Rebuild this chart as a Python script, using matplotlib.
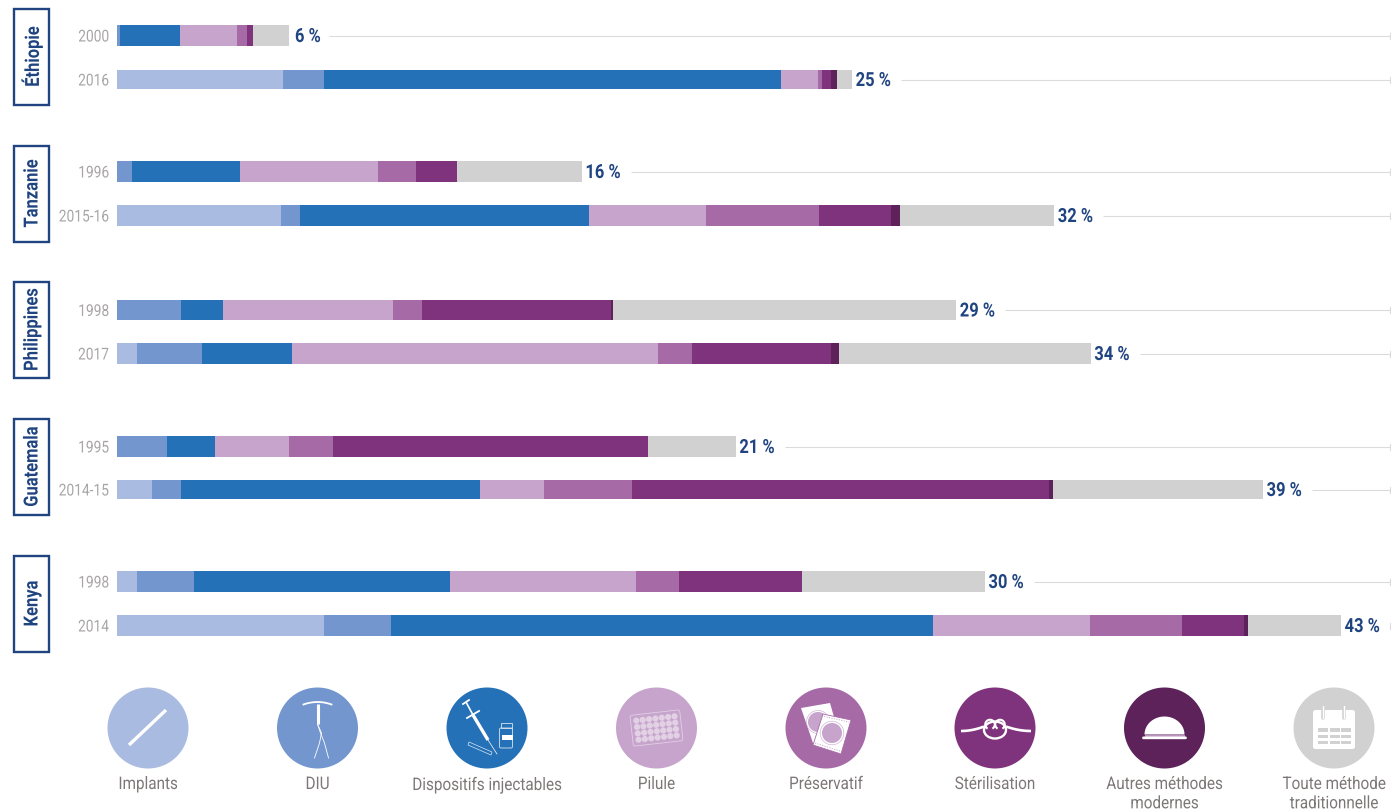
import matplotlib
matplotlib.use("Agg")
from matplotlib import pyplot as plt
from matplotlib.patches import Circle, Rectangle, FancyBboxPatch, Polygon, Ellipse, Arc
from matplotlib.patheffects import AbstractPathEffect
from matplotlib import transforms
import numpy as np

plt.rcParams['font.family'] = ['Roboto', 'DejaVu Sans']

# Data: share of women per method, percentage points
countries = ["Éthiopie", "Tanzanie", "Philippines", "Guatemala", "Kenya"]
years = ["2000", "2016", "1996", "2015-16", "1998", "2017", "1995", "2014-15", "1998", "2014"]
totals = [6, 25, 16, 32, 29, 34, 21, 39, 30, 43]
methods = ["Implants", "DIU", "Dispositifs injectables", "Pilule", "Préservatif",
           "Stérilisation", "Autres méthodes\nmodernes", "Toute méthode\ntraditionnelle"]

implants = [0, 5.72, 0, 5.66, 0, 0.69, 0, 1.21, 0.69, 7.14]
diu = [0.10, 1.41, 0.52, 0.66, 2.21, 2.24, 1.72, 1.00, 1.97, 2.31]
injectables = [2.07, 15.76, 3.72, 9.97, 1.45, 3.10, 1.66, 10.31, 8.83, 18.69]
pilule = [1.97, 1.28, 4.76, 4.03, 5.86, 12.62, 2.55, 2.21, 6.41, 5.41]
preservatif = [0.34, 0.14, 1.31, 3.90, 1.00, 1.17, 1.52, 3.03, 1.48, 3.17]
sterilisation = [0.21, 0.31, 1.41, 2.48, 6.52, 4.79, 10.86, 14.38, 4.24, 2.14]
autres = [0, 0.21, 0, 0.31, 0.07, 0.28, 0, 0.14, 0, 0.14]
traditionnelle = [1.24, 0.52, 4.31, 5.31, 11.83, 8.69, 3.03, 7.24, 6.31, 3.21]
series = [implants, diu, injectables, pilule, preservatif, sterilisation, autres, traditionnelle]

colors = ["#a9bbe0", "#7496cf", "#2471b7", "#c6a4cc", "#a66ba6", "#7f337c", "#5c2259", "#d2d1d2"]
NAVY = "#1f4480"
GREY = "#a8a5a5"
LEGEND_GREY = "#7d7877"
LINE = "#dcdbdb"
PILL_LIGHT = "#e2d0e5"

# Layout, in pixels
W, H = 1391, 811
X0 = 117
PX_PER_PCT = 29.0
row_y = [35.5, 79.5, 171.5, 215.5, 310, 353.5, 446.5, 489.5, 581.5, 625.5]
bar_h = [20.5, 19.5, 20.5, 20.5, 20.5, 20.5, 20.5, 19.5, 20.5, 20.5]
box_top = [9, 146, 282, 419, 556]
legend_x = [148, 317.5, 487, 656.5, 826, 995, 1164.5, 1334]
legend_y = 728
R = 40.5


class Squeeze(AbstractPathEffect):
    """Roboto Condensed is not installed, so squeeze Roboto around the text anchor."""

    def __init__(self, x, y, sx=1.0, sy=1.0):
        super().__init__()
        self.squeeze = transforms.Affine2D().translate(-x, -y).scale(sx, sy).translate(x, y)

    def draw_path(self, renderer, gc, tpath, affine, rgbFace=None):
        renderer.draw_path(gc, tpath, affine + self.squeeze, rgbFace)


def narrow(txt, sx=1.0, sy=1.0):
    x, y = txt.get_transform().transform(txt.get_position())
    txt.set_path_effects([Squeeze(x, y, sx, sy)])


fig = plt.figure(figsize=(W / 100, H / 100), dpi=100)

# bars live in a percent scale, everything else in pixels
ax = fig.add_axes([0, 0, 1, 1])
ax.set_xlim(-X0 / PX_PER_PCT, (W - X0) / PX_PER_PCT)
ax.set_ylim(H, 0)
ax.axis("off")

px = fig.add_axes([0, 0, 1, 1], zorder=3)
px.set_xlim(0, W)
px.set_ylim(H, 0)
px.axis("off")
px.patch.set_alpha(0)

left = np.zeros(len(years))
for values, color in zip(series, colors):
    ax.barh(row_y, values, left=left, height=bar_h, color=color, linewidth=0)
    left += np.array(values)

right_end = (W - X0) / PX_PER_PCT
for y, year, total, end in zip(row_y, years, totals, left):
    t = ax.text(-8 / PX_PER_PCT, y + 1.5, year, ha="right", va="center", fontsize=11.8, color=GREY)
    narrow(t, sx=0.84)
    t = ax.text(end + (6 if total < 10 else 3.5) / PX_PER_PCT, y + 1.5, f"{total} %", ha="left", va="center",
                fontsize=14, fontweight="bold", color=NAVY)
    narrow(t, sx=0.85)
    gap = 40 if total < 10 else 49
    ax.plot([end + gap / PX_PER_PCT, right_end - 1 / PX_PER_PCT], [y, y],
            color=LINE, lw=0.8, solid_capstyle="butt")
    ax.plot([right_end - 1.5 / PX_PER_PCT] * 2, [y - 3, y + 3], color=LINE, lw=0.8)

for name, top in zip(countries, box_top):
    px.add_patch(Rectangle((13.5, top), 35, 95.5, fill=False, ec=NAVY, lw=1.7))
    t = px.text(32.5, top + 47.5, name, rotation=90, ha="center", va="center",
                fontsize=14, fontweight="bold", color=NAVY)
    narrow(t, sy=0.85)


def draw_implant(a, cx, cy):
    a.plot([cx - 19, cx + 18], [cy + 17, cy - 18], color="white", lw=2.4, solid_capstyle="butt")


def draw_diu(a, cx, cy):
    s = np.linspace(-1, 1, 20)
    a.plot(cx + 14 * s, cy - 26 + 2.5 * s ** 2, color="white", lw=1.3)
    a.plot([cx, cx], [cy - 24, cy - 4], color="white", lw=2.2, solid_capstyle="butt")
    a.plot([cx, cx + 3, cx + 7, cx + 11], [cy - 4, cy + 5, cy + 15, cy + 30], color="white", lw=0.6)
    a.plot([cx, cx + 4, cx + 2, cx - 3], [cy - 4, cy + 5, cy + 15, cy + 30], color="white", lw=0.6)


def draw_injectable(a, cx, cy):
    a.plot([cx - 21, cx - 14], [cy - 26, cy - 13], color="white", lw=1.2, solid_capstyle="butt")
    a.plot([cx - 14, cx + 1], [cy - 13, cy + 12], color="white", lw=2.4, solid_capstyle="butt")
    a.plot([cx + 1, cx + 10], [cy + 12, cy + 26], color="white", lw=0.5)
    a.plot([cx - 24, cx - 18], [cy - 24, cy - 28], color="white", lw=1.3)
    a.plot([cx - 20, cx - 8], [cy - 10, cy - 17], color="white", lw=1.3)
    a.add_patch(FancyBboxPatch((cx + 12.5, cy), 13, 20, boxstyle="round,pad=0,rounding_size=1.5",
                               fill=False, ec="#d9e4f2", lw=0.6))
    a.add_patch(Rectangle((cx + 13.5, cy - 5), 11, 5, fill=False, ec="#d9e4f2", lw=0.6))
    a.add_patch(Rectangle((cx + 15, cy + 7), 11, 5, color="white", lw=0))
    a.add_patch(Polygon([[cx - 19, cy + 17], [cx - 18, cy + 14], [cx + 5, cy + 24], [cx + 4, cy + 27]],
                        fill=False, ec="#d9e4f2", lw=0.5))


def draw_pilule(a, cx, cy):
    rot = transforms.Affine2D().rotate_deg_around(cx, cy, -6.5) + a.transData
    a.add_patch(FancyBboxPatch((cx - 25, cy - 15.5), 50, 31, boxstyle="round,pad=0,rounding_size=2",
                               fill=False, ec=PILL_LIGHT, lw=0.6, transform=rot))
    for i in range(7):
        for j in range(4):
            a.add_patch(Circle((cx - 19.2 + i * 6.4, cy - 9.6 + j * 6.4), 3.1, color=PILL_LIGHT,
                               lw=0, transform=rot))


def draw_preservatif(a, cx, cy):
    a.add_patch(Polygon([[cx - 25, cy - 20], [cx + 4, cy - 25], [cx + 14, cy + 10], [cx - 13, cy + 15]],
                        color="white", lw=0))
    a.add_patch(Circle((cx - 8, cy - 6), 10, color="#c6a4cc", lw=0))
    a.add_patch(Circle((cx - 8, cy - 6), 11.5, fill=False, ec="#c6a4cc", lw=0.4))
    a.add_patch(Polygon([[cx - 3, cy - 14], [cx + 25, cy - 8], [cx + 15, cy + 26], [cx - 13, cy + 17]],
                        fc="white", ec="#a66ba6", lw=0.6))
    a.add_patch(Circle((cx + 6, cy + 5), 10, color="#c6a4cc", lw=0))
    a.add_patch(Circle((cx + 6, cy + 5), 11.8, fill=False, ec="#c6a4cc", lw=0.4))
    a.plot([cx - 2, cx + 23], [cy - 11.5, cy - 6], color="#c6a4cc", lw=0.6, ls=(0, (1.5, 1.5)))
    a.plot([cx - 11, cx + 14], [cy + 15, cy + 23], color="#c6a4cc", lw=0.6, ls=(0, (1.5, 1.5)))


def draw_sterilisation(a, cx, cy):
    s = np.linspace(0, 1, 20)
    a.plot(cx - 34 + 23 * s, cy + 3 - 4.5 * s ** 2, color="white", lw=1.9, solid_capstyle="butt")
    a.plot(cx + 36 - 25 * s, cy + 3 - 4.5 * s ** 2, color="white", lw=1.9, solid_capstyle="butt")
    a.add_patch(Ellipse((cx, cy + 2), 22, 17, fill=False, ec="white", lw=1.7))
    a.add_patch(Arc((cx - 5, cy - 3.5), 9.5, 9.5, theta1=120, theta2=60, ec="white", lw=1.5))
    a.add_patch(Arc((cx + 5, cy - 3.5), 9.5, 9.5, theta1=120, theta2=60, ec="white", lw=1.5))


def draw_autres(a, cx, cy):
    s = np.linspace(0, np.pi, 40)
    dome = np.column_stack([cx + 20 * np.cos(s), cy + 6.5 - 18 * np.sin(s)])
    a.add_patch(Polygon(dome, color="white", lw=0))
    a.add_patch(Rectangle((cx - 20, cy + 6.5), 40, 2.2, color="#bb94c2", lw=0))
    a.add_patch(FancyBboxPatch((cx - 22.3, cy + 8.5), 44.6, 2.7, boxstyle="round,pad=0,rounding_size=1.2",
                               color="white", lw=0))


def draw_calendrier(a, cx, cy):
    a.add_patch(FancyBboxPatch((cx - 21, cy - 18), 42, 39, boxstyle="round,pad=0,rounding_size=2.5",
                               color="white", lw=0))
    a.add_patch(Rectangle((cx - 21, cy - 5.5), 42, 0.9, color="#d2d1d2", lw=0))
    for dx in (-11, 10):
        a.plot([cx + dx, cx + dx], [cy - 21, cy - 10], color="#d2d1d2", lw=2.6, solid_capstyle="round")
        a.plot([cx + dx, cx + dx], [cy - 22, cy - 10], color="white", lw=1.0, solid_capstyle="round")
    for i in range(3):
        for j in range(3):
            a.add_patch(Rectangle((cx - 16 + i * 11.7, cy + 0.3 + j * 6.3), 9.8, 3.2, color="#d2d1d2", lw=0))


icons = [draw_implant, draw_diu, draw_injectable, draw_pilule,
         draw_preservatif, draw_sterilisation, draw_autres, draw_calendrier]

for x, label, color, icon in zip(legend_x, methods, colors, icons):
    px.add_patch(Circle((x, legend_y), R, color=color, lw=0))
    icon(px, x, legend_y)
    t = px.text(x, 777, label, ha="center", va="top", fontsize=12.5, color=LEGEND_GREY, linespacing=1.36)
    narrow(t, sx=0.88)

fig.savefig("out.png", dpi=100)
